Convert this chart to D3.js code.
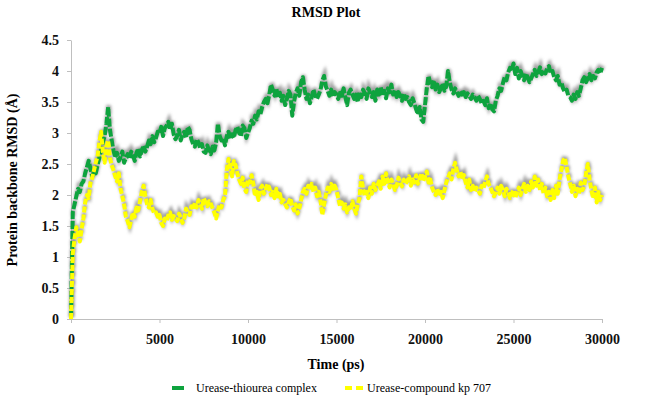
<!DOCTYPE html>
<html><head><meta charset="utf-8">
<script src="https://cdn.jsdelivr.net/npm/d3@7"></script>
<style>body{margin:0;background:#fff}svg text{font-family:"Liberation Serif","Times New Roman",serif}</style>
</head><body><svg id="c" width="648" height="400"></svg>
<script>
const timeStep = 100; // ps between samples
const xTicks = [0,5000,10000,15000,20000,25000,30000];
const yTicks = [0,0.5,1,1.5,2,2.5,3,3.5,4,4.5];
const seriesNames = ["Urease-thiourea complex","Urease-compound kp 707"];
const thiourea = [
0.00,1.72,1.85,1.98,2.10,2.05,2.18,2.22,2.35,2.45,
2.55,2.42,2.30,2.38,2.35,2.48,2.60,2.72,2.85,2.95,
3.15,3.42,3.05,2.88,2.72,2.60,2.68,2.55,2.62,2.70,
2.52,2.60,2.66,2.58,2.70,2.64,2.55,2.68,2.75,2.62,
2.72,2.80,2.70,2.78,2.88,2.82,2.95,2.85,2.92,3.02,
3.00,3.10,2.95,3.08,3.12,3.18,3.05,3.15,2.98,2.90,
2.95,3.05,2.88,2.98,3.02,2.92,3.10,3.05,2.90,2.82,
2.78,2.90,2.85,2.75,2.82,2.70,2.68,2.80,2.72,2.66,
2.78,2.72,2.85,3.15,2.95,2.88,2.92,2.80,2.95,3.02,
2.90,2.98,2.92,3.05,3.10,3.00,2.95,3.12,3.08,2.92,
3.00,3.08,3.20,3.15,3.28,3.22,3.35,3.30,3.42,3.50,
3.55,3.48,3.62,3.78,3.70,3.60,3.72,3.58,3.65,3.52,
3.60,3.45,3.55,3.68,3.62,3.28,3.50,3.65,3.72,3.60,
3.82,3.90,3.70,3.55,3.62,3.48,3.58,3.70,3.60,3.55,
3.62,3.70,3.85,3.92,3.75,3.68,3.60,3.70,3.58,3.66,
3.62,3.55,3.68,3.60,3.72,3.58,3.45,3.65,3.70,3.62,
3.55,3.62,3.50,3.66,3.58,3.70,3.64,3.55,3.72,3.65,
3.58,3.66,3.52,3.70,3.62,3.74,3.60,3.68,3.56,3.72,
3.66,3.78,3.62,3.70,3.58,3.66,3.60,3.52,3.64,3.55,
3.58,3.50,3.45,3.56,3.48,3.38,3.30,3.42,3.22,3.18,
3.45,3.72,3.92,3.80,3.74,3.85,3.70,3.78,3.66,3.72,
3.80,3.68,3.75,4.00,3.82,3.70,3.64,3.72,3.66,3.60,
3.68,3.62,3.66,3.58,3.64,3.60,3.55,3.62,3.58,3.52,
3.60,3.55,3.48,3.52,3.45,3.56,3.40,3.48,3.38,3.35,
3.52,3.60,3.72,3.68,3.80,3.90,3.85,3.98,4.05,4.00,
4.12,3.95,4.05,3.88,4.00,3.92,3.85,3.96,3.90,3.82,
3.88,3.95,4.02,3.92,3.98,4.06,3.95,4.02,3.96,4.04,
4.08,3.96,4.00,3.90,3.85,3.92,3.78,3.82,3.72,3.66,
3.70,3.60,3.58,3.52,3.62,3.55,3.66,3.60,3.72,3.85,
3.90,3.82,3.88,3.95,3.85,3.92,3.88,3.98,4.02,3.96,
4.05];
const kp707 = [
0.00,1.05,1.30,1.48,1.38,1.25,1.45,1.62,1.88,2.00,
1.95,2.20,2.28,2.40,2.52,2.62,2.85,3.02,2.70,2.52,
2.78,2.88,2.60,2.48,2.40,2.30,2.22,2.35,2.10,1.98,
1.85,1.65,1.58,1.48,1.60,1.72,1.65,1.80,1.75,1.90,
2.05,2.15,1.98,1.85,1.80,1.92,1.78,1.70,1.72,1.65,
1.68,1.55,1.50,1.62,1.58,1.68,1.72,1.60,1.66,1.62,
1.58,1.70,1.64,1.55,1.62,1.78,1.72,1.68,1.82,1.76,
1.88,1.80,1.92,1.85,1.78,1.95,1.88,1.82,1.90,1.86,
1.78,1.72,1.62,1.75,1.85,1.80,1.92,1.98,2.40,2.58,
2.45,2.30,2.55,2.48,2.35,2.25,2.18,2.28,2.10,2.05,
2.25,2.20,2.32,2.18,1.98,2.05,1.92,2.10,2.15,2.02,
2.08,2.18,2.12,2.00,2.05,1.95,2.10,1.98,2.02,1.88,
1.92,1.85,1.80,1.88,1.95,1.82,1.75,1.85,1.70,1.78,
1.92,2.05,2.10,2.02,2.15,2.08,2.18,2.05,2.12,1.98,
2.05,1.90,1.68,1.85,2.00,2.12,2.05,2.18,2.10,2.15,
2.08,1.95,1.82,1.88,1.78,1.85,1.72,1.80,1.75,1.90,
1.78,1.70,1.85,1.95,2.30,2.10,1.98,2.05,1.95,2.12,
2.02,2.18,2.08,2.15,2.22,2.10,2.30,2.18,2.35,2.22,
2.12,2.25,2.18,2.08,2.15,2.28,2.20,2.14,2.25,2.18,
2.22,2.30,2.15,2.25,2.20,2.32,2.18,2.26,2.35,2.22,
2.30,2.38,2.20,2.25,2.12,2.05,2.00,2.10,1.98,2.05,
1.95,2.08,2.20,2.28,2.35,2.25,2.42,2.52,2.40,2.30,
2.38,2.25,2.32,2.20,2.12,2.25,2.08,2.15,2.05,2.12,
2.08,2.02,2.15,2.10,2.22,2.30,2.18,2.12,2.05,1.98,
2.05,2.12,2.02,2.15,2.08,1.98,2.10,2.05,1.95,2.02,
2.08,1.95,2.05,2.12,2.00,2.10,2.18,2.05,2.15,2.08,
2.22,2.12,2.30,2.15,2.25,2.08,2.18,2.02,2.12,1.98,
2.05,1.92,2.08,1.95,2.15,2.02,2.25,2.40,2.55,2.60,
2.45,2.30,2.18,2.05,2.15,1.98,2.10,2.02,2.20,2.08,
2.15,2.35,2.50,2.25,2.08,1.95,2.12,1.88,2.05,1.92,
2.00];

const svg = d3.select("#c");
const m = {l:71, r:46, t:40, b:81};
const W = 648, H = 400;
const x = d3.scaleLinear().domain([0,30000]).range([m.l, W-m.r]);
const y = d3.scaleLinear().domain([0,4.5]).range([H-m.b, m.t]);

const defs = svg.append("defs");
defs.append("filter").attr("id","blur").attr("x","-5%").attr("y","-10%").attr("width","110%").attr("height","120%")
  .append("feGaussianBlur").attr("stdDeviation",1.5);

// axes
const xa = svg.append("g").attr("transform",`translate(0,${y(0)})`)
  .call(d3.axisBottom(x).tickValues(xTicks).tickSize(4).tickSizeOuter(0).tickFormat(d3.format("d")));
const ya = svg.append("g").attr("transform",`translate(${x(0)},0)`)
  .call(d3.axisLeft(y).tickValues(yTicks).tickSize(4).tickSizeOuter(0).tickFormat(d=>String(d)));
[xa,ya].forEach(a=>{
  a.selectAll("path,line").attr("stroke","#bfbfbf").attr("stroke-width",1);
  a.selectAll("text").attr("font-size",14).attr("font-weight","bold").attr("fill","#111");
});
xa.selectAll("text").attr("dy","1.25em");
ya.selectAll("text").attr("dx","-5").attr("dy","0.33em");

const line = d3.line().x((d,i)=>x(i*timeStep)).y(d=>y(d));
const series = [
  {data: thiourea, color:"#0ea33e", dash:"8,2"},
  {data: kp707, color:"#ffff00", dash:"6,2"}
];
series.forEach(s=>{
  svg.append("path").datum(s.data).attr("d",line).attr("fill","none")
    .attr("stroke","#8c8c8c").attr("stroke-width",4.5).attr("stroke-opacity",0.85)
    .attr("transform","translate(0.5,-2)").attr("filter","url(#blur)")
    .attr("stroke-dasharray",s.dash);
});
series.forEach(s=>{
  svg.append("path").datum(s.data).attr("d",line).attr("fill","none")
    .attr("stroke",s.color).attr("stroke-width",4)
    .attr("stroke-linejoin","round").attr("stroke-dasharray",s.dash);
});

// titles
svg.append("text").attr("x",326).attr("y",17).attr("text-anchor","middle")
  .attr("font-size",14).attr("font-weight","bold").text("RMSD Plot");
svg.append("text").attr("x",336).attr("y",369).attr("text-anchor","middle")
  .attr("font-size",14).attr("font-weight","bold").text("Time (ps)");
svg.append("text").attr("transform","translate(17,180) rotate(-90)").attr("text-anchor","middle")
  .attr("font-size",14).attr("font-weight","bold").text("Protein backbone RMSD (Å)");

// legend
const lg = svg.append("g");
lg.append("line").attr("x1",172).attr("x2",184).attr("y1",388).attr("y2",388)
  .attr("stroke","#0ea33e").attr("stroke-width",4);
lg.append("text").attr("x",196).attr("y",392).attr("font-size",12).text(seriesNames[0]);
lg.append("line").attr("x1",345).attr("x2",365).attr("y1",388).attr("y2",388)
  .attr("stroke","#ffff00").attr("stroke-width",4).attr("stroke-dasharray","7,4");
lg.append("text").attr("x",367).attr("y",392).attr("font-size",12).text(seriesNames[1]);
</script></body></html>
